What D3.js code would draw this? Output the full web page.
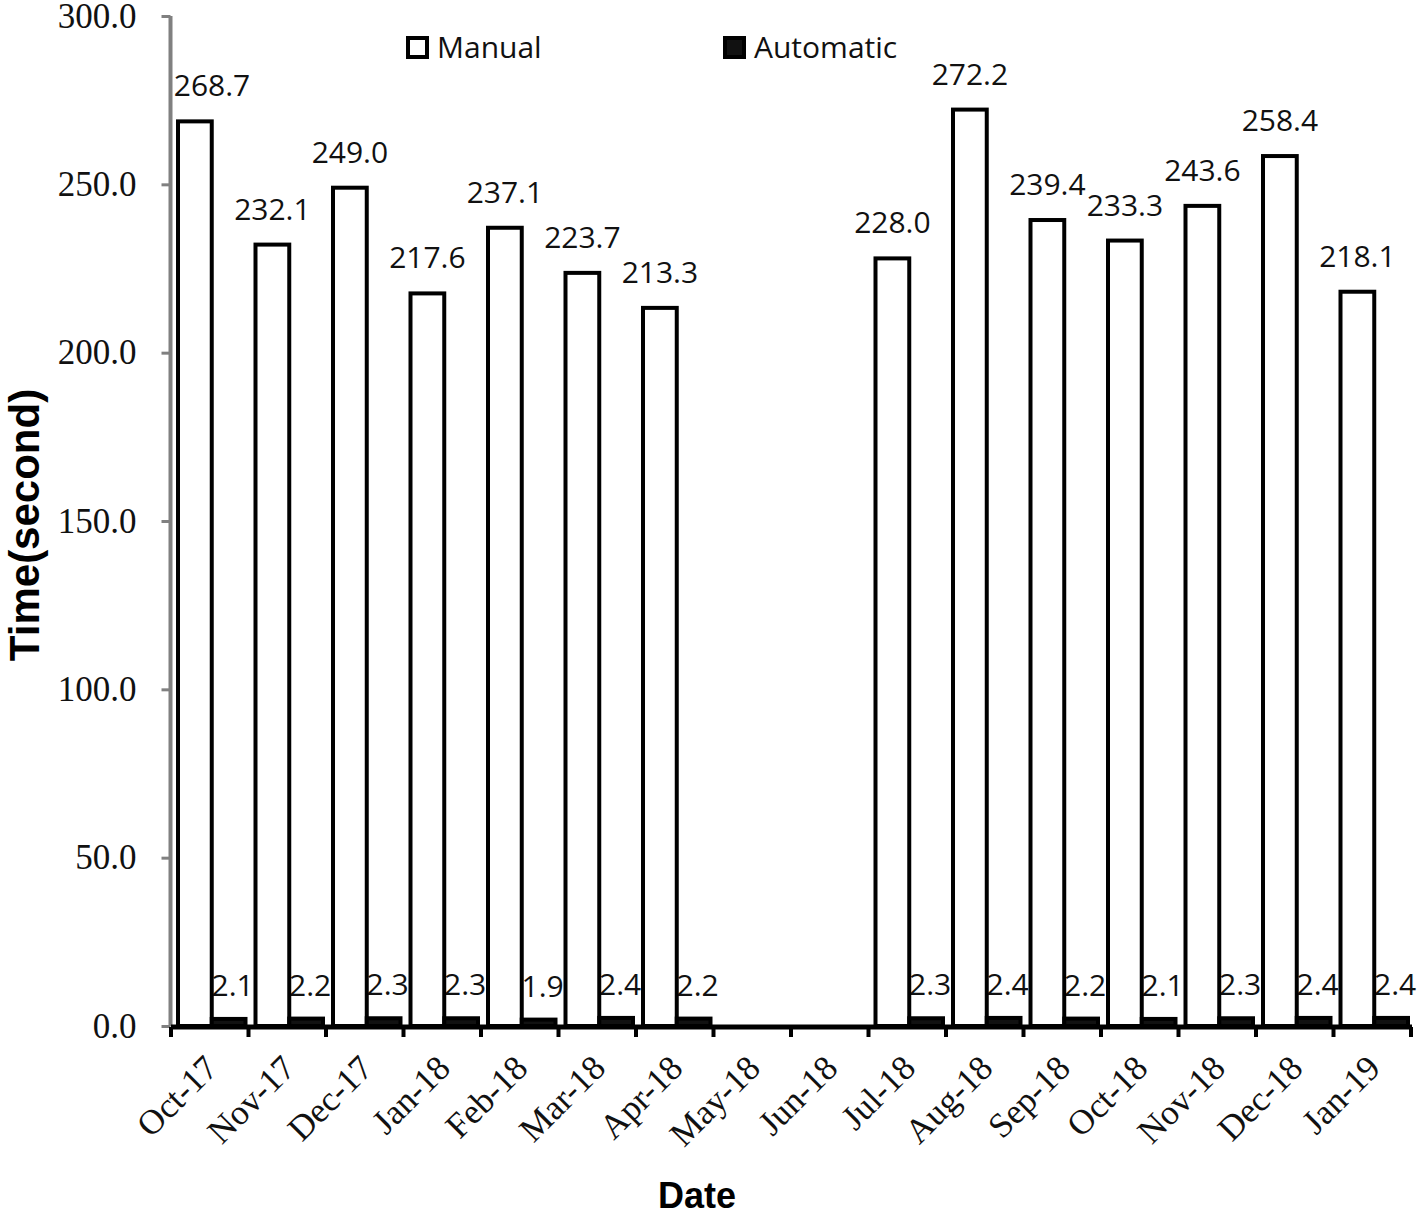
<!DOCTYPE html>
<html>
<head>
<meta charset="utf-8">
<script src="https://cdn.jsdelivr.net/npm/d3@7"></script>
<style>
  body { margin: 0; background: white; }
</style>
</head>
<body>
<script>
// data
const months = ['Oct-17', 'Nov-17', 'Dec-17', 'Jan-18', 'Feb-18', 'Mar-18', 'Apr-18', 'May-18',
    'Jun-18', 'Jul-18', 'Aug-18', 'Sep-18', 'Oct-18', 'Nov-18', 'Dec-18', 'Jan-19']
const manual = [268.7, 232.1, 249.0, 217.6, 237.1, 223.7, 213.3, null, null,
    228.0, 272.2, 239.4, 233.3, 243.6, 258.4, 218.1]
const automatic = [2.1, 2.2, 2.3, 2.3, 1.9, 2.4, 2.2, null, null,
    2.3, 2.4, 2.2, 2.1, 2.3, 2.4, 2.4]
const seriesNames = ['Manual', 'Automatic']
const yTicks = [0, 50, 100, 150, 200, 250, 300]

const SERIF = '"Liberation Serif", "Times New Roman", serif'
const SANS = '"Open Sans", sans-serif'
const BOLD = '"Liberation Sans", Arial, sans-serif'

const width = 1418, height = 1215
const svg = d3.select('body').append('svg').attr('width', width).attr('height', height)

const x = d3.scaleBand().domain(months).range([171, 1411])
const bw = x.bandwidth()
const sub = d3.scaleBand().domain(seriesNames).range([7, bw - 3])
const y = d3.scaleLinear().domain([0, 300]).range([1026, 16])

const rows = months.map((m, i) => ({ m, manual: manual[i], automatic: automatic[i] }))

//value labels (under the bars, like the original)
const lab = svg.append('g').attr('font-family', SANS).attr('font-size', 30).attr('fill', '#111').attr('text-anchor', 'middle')
rows.filter(d => d.manual != null).forEach(d => {
    let cx = x(d.m) + sub('Manual') + sub.bandwidth() / 2
    cx = Math.max(cx, x.range()[0] + 41)
    lab.append('text').attr('x', cx).attr('y', y(d.manual) - 25).text(d.manual.toFixed(1))
})
rows.filter(d => d.automatic != null).forEach(d => {
    const cx = x(d.m) + sub('Automatic') + sub.bandwidth() / 2 + 4
    lab.append('text').attr('x', cx).attr('y', y(d.automatic) - 23).text(d.automatic.toFixed(1))
})

//bars
const bars = svg.append('g').attr('stroke', 'black').attr('stroke-width', 4)
bars.selectAll('rect.man').data(rows.filter(d => d.manual != null)).join('rect')
    .attr('x', d => x(d.m) + sub('Manual')).attr('width', sub.bandwidth())
    .attr('y', d => y(d.manual)).attr('height', d => y(0) - y(d.manual))
    .attr('fill', 'white')
bars.selectAll('rect.auto').data(rows.filter(d => d.automatic != null)).join('rect')
    .attr('x', d => x(d.m) + sub('Automatic')).attr('width', sub.bandwidth())
    .attr('y', d => y(d.automatic)).attr('height', d => y(0) - y(d.automatic))
    .attr('fill', '#111')

//y axis (grey)
const yAxis = svg.append('g').attr('transform', 'translate(170.5,0)')
    .call(d3.axisLeft(y).tickValues(yTicks).tickSize(9).tickFormat(d3.format('.1f')))
yAxis.select('.domain').attr('stroke', '#808080').attr('stroke-width', 4).attr('d', `M0,${y(300)}V${y(0)}`)
yAxis.selectAll('.tick line').attr('stroke', '#808080').attr('stroke-width', 3)
yAxis.selectAll('.tick text').attr('font-family', SERIF).attr('font-size', 35).attr('fill', '#111').attr('x', -34)

//x axis (black), ticks at category boundaries
const xa = svg.append('g')
xa.append('line').attr('x1', x.range()[0]).attr('x2', x.range()[1] + 1).attr('y1', 1027).attr('y2', 1027)
    .attr('stroke', 'black').attr('stroke-width', 5)
xa.selectAll('line.t').data(months.map(m => x(m)).concat([x.range()[1]])).join('line')
    .attr('x1', d => d).attr('x2', d => d).attr('y1', 1027).attr('y2', 1037)
    .attr('stroke', 'black').attr('stroke-width', 4)
xa.selectAll('text').data(months).join('text')
    .attr('transform', d => `translate(${x(d) + bw / 2 + 10},1070) rotate(-45)`)
    .attr('text-anchor', 'end').attr('font-family', SERIF).attr('font-size', 35).attr('fill', '#111')
    .text(d => d)

//legend
const leg = svg.append('g').attr('font-family', SANS).attr('font-size', 30).attr('fill', '#111')
const legX = [408, 725]
seriesNames.forEach((s, i) => {
    leg.append('rect').attr('x', legX[i]).attr('y', 38).attr('width', 19).attr('height', 19)
        .attr('fill', i ? '#111' : 'white').attr('stroke', 'black').attr('stroke-width', 4)
    leg.append('text').attr('x', legX[i] + 29).attr('y', 58).text(s)
})

//titres
svg.append('text').attr('transform', 'translate(39,525) rotate(-90)').attr('text-anchor', 'middle')
    .attr('font-family', BOLD).attr('font-weight', 'bold').attr('font-size', 42).text('Time(second)')
svg.append('text').attr('x', 697).attr('y', 1208).attr('text-anchor', 'middle')
    .attr('font-family', BOLD).attr('font-weight', 'bold').attr('font-size', 36).text('Date')
</script>
</body>
</html>
